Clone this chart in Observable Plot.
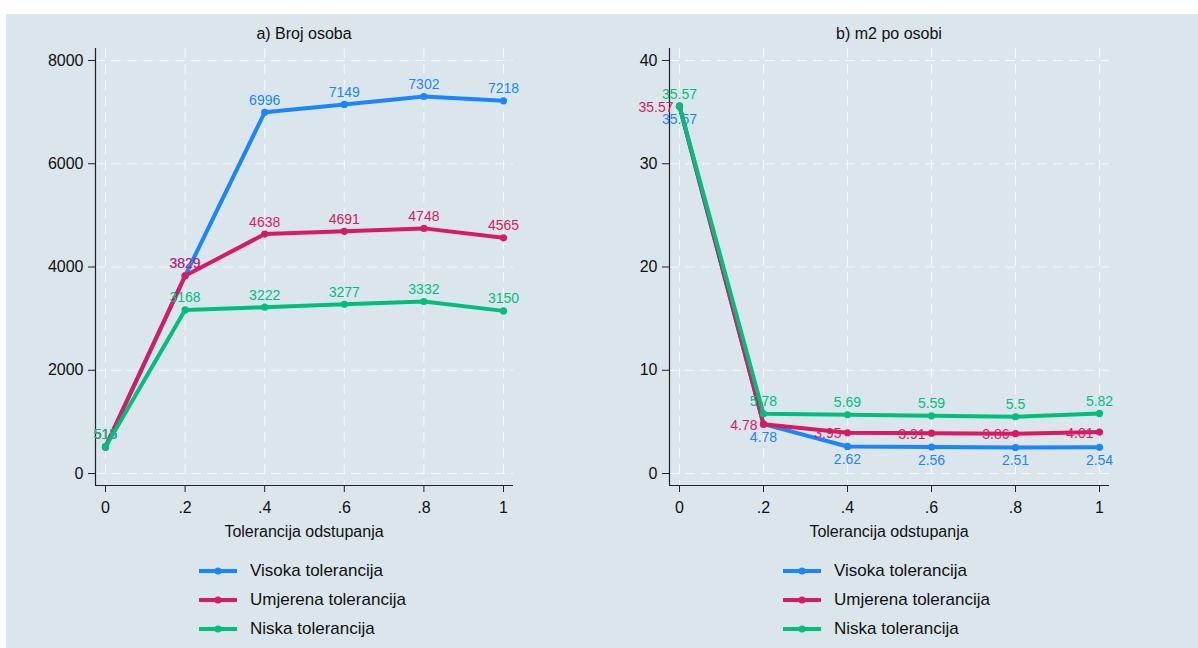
<!DOCTYPE html>
<html>
<head>
<meta charset="utf-8">
<script src="https://cdn.jsdelivr.net/npm/d3@7"></script>
<script src="https://cdn.jsdelivr.net/npm/@observablehq/plot@0.6"></script>
<style>
  body { margin: 0; background: #ffffff; font-family: "Liberation Sans", Arial, sans-serif; }
  #root { position: relative; width: 1198px; height: 648px; overflow: hidden; }
  #bg { position: absolute; left: 6px; top: 14px; width: 1192px; height: 634px; background: #dae6ec; }
  .panel { position: absolute; top: 0; }
  .title { position: absolute; font-size: 16px; color: #111; transform: translate(-50%, -50%); white-space: nowrap; }
  .legend { position: absolute; }
  .legrow { position: absolute; display: flex; align-items: center; white-space: nowrap; font-size: 17px; color: #111; transform: translateY(-50%); }
  .legrow svg { margin-right: 13px; }
</style>
</head>
<body>
<div id="root"><div id="bg"></div></div>
<script>
// ---- data ----
const tolerance = [0, 0.2, 0.4, 0.6, 0.8, 1];
const seriesNames = ["Visoka tolerancija", "Umjerena tolerancija", "Niska tolerancija"];
const seriesColors = ["#1a85ff", "#d81b60", "#00bf7d"];

// a) Broj osoba
const personsVisoka   = [515, 3829, 6996, 7149, 7302, 7218];
const personsUmjerena = [515, 3829, 4638, 4691, 4748, 4565];
const personsNiska    = [515, 3168, 3222, 3277, 3332, 3150];

// b) m2 po osobi
const m2Visoka   = [35.57, 4.78, 2.62, 2.56, 2.51, 2.54];
const m2Umjerena = [35.57, 4.78, 3.95, 3.91, 3.86, 4.01];
const m2Niska    = [35.57, 5.78, 5.69, 5.59, 5.5, 5.82];

const xTicks = [0, 0.2, 0.4, 0.6, 0.8, 1];
const xTickLabels = ["0", ".2", ".4", ".6", ".8", "1"];
const yTicksA = [0, 2000, 4000, 6000, 8000];
const yTicksB = [0, 10, 20, 30, 40];
const panelTitles = ["a) Broj osoba", "b) m2 po osobi"];
const xTitle = "Tolerancija odstupanja";

// ---- helpers ----
function toRows(seriesArrays) {
  const rows = [];
  seriesArrays.forEach((vals, i) => {
    vals.forEach((v, j) => rows.push({series: seriesNames[i], x: tolerance[j], y: v}));
  });
  return rows;
}
const fmtX = d => xTickLabels[xTicks.indexOf(d)] ?? String(d);

function makePanel(opts) {
  const {rows, yTicks, xDomain, yDomain, width, marginRight, labelPos} = opts;
  const marks = [
    Plot.gridY(yTicks, {stroke: "#ffffff", strokeOpacity: 0.75, strokeWidth: 1, strokeDasharray: "10,6"}),
    Plot.gridX(xTicks, {stroke: "#ffffff", strokeOpacity: 0.75, strokeWidth: 1, strokeDasharray: "10,6"}),
    Plot.ruleX([xDomain[0]], {stroke: "#222", strokeWidth: 1.2}),
    Plot.ruleY([yDomain[0]], {stroke: "#222", strokeWidth: 1.2}),
    Plot.axisY({ticks: yTicks, tickSize: 7, tickPadding: 5, fontSize: 16, label: null, tickFormat: d => String(d), stroke: "#222", fill: "#111"}),
    Plot.axisX({ticks: xTicks, tickSize: 7, tickPadding: 9, fontSize: 16, label: null, tickFormat: fmtX, stroke: "#222", fill: "#111"})
  ];
  seriesNames.forEach((name, i) => {
    const data = rows.filter(r => r.series === name);
    const color = seriesColors[i];
    const lp = labelPos[i];
    marks.push(Plot.text(data, {x: "x", y: "y", text: d => String(d.y), fill: color, fontSize: 14, dx: lp.dx, dy: lp.dy, textAnchor: lp.anchor}));
    marks.push(Plot.line(data, {x: "x", y: "y", stroke: color, strokeWidth: 4, strokeLinejoin: "round"}));
    marks.push(Plot.dot(data, {x: "x", y: "y", fill: color, r: 3.6}));
  });
  return Plot.plot({
    width, height: 545,
    marginLeft: 95, marginRight, marginTop: 48, marginBottom: 60,
    style: {background: "transparent", fontFamily: "'Liberation Sans', Arial, sans-serif"},
    x: {domain: xDomain},
    y: {domain: yDomain},
    marks
  });
}

const root = document.getElementById("root");

// Panel a
const svgA = makePanel({
  rows: toRows([personsVisoka, personsUmjerena, personsNiska]),
  yTicks: yTicksA,
  xDomain: [-0.0251, 1.0251],
  yDomain: [-232, 8232],
  width: 599, marginRight: 86,
  labelPos: [
    {dx: 0, dy: -12, anchor: "middle"},
    {dx: 0, dy: -12, anchor: "middle"},
    {dx: 0, dy: -12, anchor: "middle"}
  ]
});
svgA.classList.add("panel");
svgA.style.left = "0px";
root.appendChild(svgA);

// Panel b
const svgB = makePanel({
  rows: toRows([m2Visoka, m2Umjerena, m2Niska]),
  yTicks: yTicksB,
  xDomain: [-0.0238, 1.0238],
  yDomain: [-1.16, 41.16],
  width: 599, marginRight: 64,
  labelPos: [
    {dx: 0, dy: 13, anchor: "middle"},
    {dx: -6, dy: 1, anchor: "end"},
    {dx: 0, dy: -12, anchor: "middle"}
  ]
});
svgB.classList.add("panel");
svgB.style.left = "574px";
root.appendChild(svgB);

// Titles and axis titles
function addText(text, x, y, cls) {
  const d = document.createElement("div");
  d.className = cls;
  d.textContent = text;
  d.style.left = x + "px";
  d.style.top = y + "px";
  root.appendChild(d);
}
addText(panelTitles[0], 304, 34, "title");
addText(panelTitles[1], 889, 34, "title");
addText(xTitle, 304, 532, "title");
addText(xTitle, 889, 532, "title");

// Legends
function addLegend(swatchX) {
  const rowY = [571, 600, 629];
  seriesNames.forEach((name, i) => {
    const row = document.createElement("div");
    row.className = "legrow";
    row.style.left = swatchX + "px";
    row.style.top = rowY[i] + "px";
    const ns = "http://www.w3.org/2000/svg";
    const s = document.createElementNS(ns, "svg");
    s.setAttribute("width", 38); s.setAttribute("height", 10);
    const l = document.createElementNS(ns, "line");
    l.setAttribute("x1", 0); l.setAttribute("x2", 38); l.setAttribute("y1", 5); l.setAttribute("y2", 5);
    l.setAttribute("stroke", seriesColors[i]); l.setAttribute("stroke-width", 4);
    const c = document.createElementNS(ns, "circle");
    c.setAttribute("cx", 19); c.setAttribute("cy", 5); c.setAttribute("r", 3.6);
    c.setAttribute("fill", seriesColors[i]);
    s.appendChild(l); s.appendChild(c);
    row.appendChild(s);
    const t = document.createElement("span");
    t.textContent = name;
    row.appendChild(t);
    root.appendChild(row);
  });
}
addLegend(199);
addLegend(783);
</script>
</body>
</html>
